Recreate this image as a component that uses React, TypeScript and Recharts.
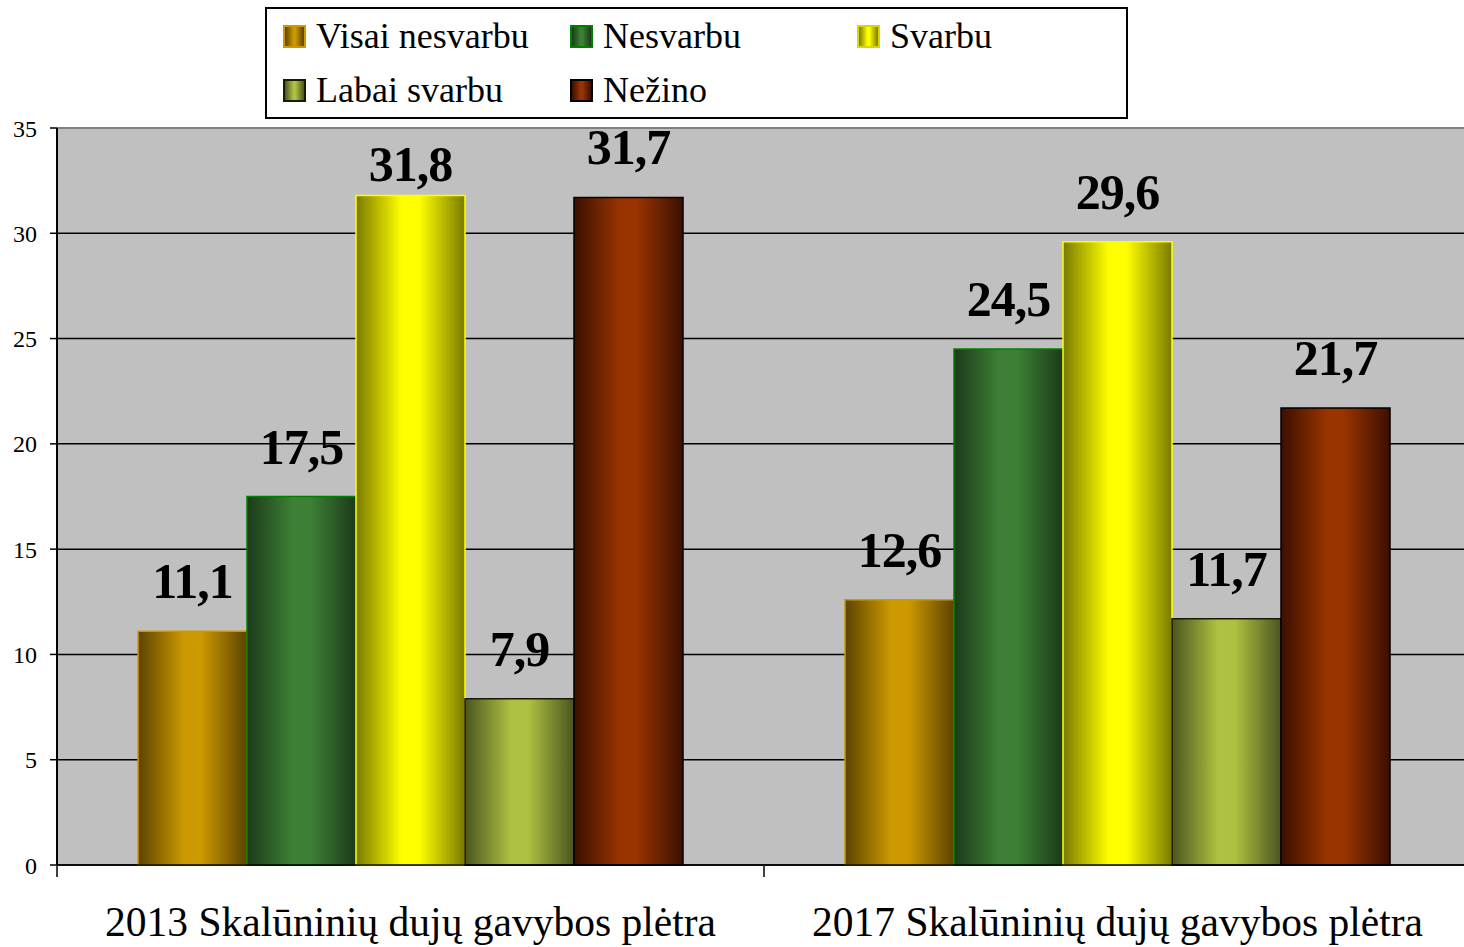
import React from "react";
import {
  Bar,
  BarChart,
  CartesianGrid,
  LabelList,
  Legend,
  ReferenceLine,
  XAxis,
  YAxis,
} from "recharts";

// categories and series values
const CATEGORIES = [
  "2013 Skalūninių dujų gavybos plėtra",
  "2017 Skalūninių dujų gavybos plėtra",
];
const VISAI_NESVARBU = [11.1, 12.6];
const NESVARBU = [17.5, 24.5];
const SVARBU = [31.8, 29.6];
const LABAI_SVARBU = [7.9, 11.7];
const NEZINO = [31.7, 21.7];
const Y_TICKS = [0, 5, 10, 15, 20, 25, 30, 35];
const BOUNDARY_TICKS = [0, 1, 2];

const SERIES = [
  { key: "visai", name: "Visai nesvarbu", values: VISAI_NESVARBU, dark: "#5c4300", bright: "#cc9900", stroke: "#cc9900" },
  { key: "nesvarbu", name: "Nesvarbu", values: NESVARBU, dark: "#1c3a1a", bright: "#3d8035", stroke: "#008000" },
  { key: "svarbu", name: "Svarbu", values: SVARBU, dark: "#7a7a00", bright: "#ffff00", stroke: "#ffff00" },
  { key: "labai", name: "Labai svarbu", values: LABAI_SVARBU, dark: "#4a5520", bright: "#b0c040", stroke: "#1a1a00" },
  { key: "nezino", name: "Nežino", values: NEZINO, dark: "#3a1000", bright: "#993300", stroke: "#000000" },
];

const data = CATEGORIES.map((name, i) => {
  const row: Record<string, string | number> = { name, bound: i + 0.5 };
  SERIES.forEach((s) => (row[s.key] = s.values[i]));
  return row;
});

const FONT = "'Liberation Serif', 'Times New Roman', serif";
const MARGIN = { top: 128, right: 9, bottom: 80, left: 0 };

const fmt = (v: number) => v.toFixed(1).replace(".", ",");

function ValueLabel(props: any) {
  const { x, y, width, value } = props;
  const cx = Number(x) + Number(width) / 2;
  // excel pulls the label down onto the bar when it would leave the plot
  let baseY = Number(y) - 33;
  if (baseY - 36 < MARGIN.top) baseY = Number(y) - 14;
  return (
    <text
      x={cx}
      y={baseY}
      textAnchor="middle"
      fontFamily={FONT}
      fontWeight="bold"
      fontSize={50}
      letterSpacing={-1}
      fill="#000"
    >
      {fmt(Number(value))}
    </text>
  );
}

function LegendBox() {
  return (
    <div
      style={{
        width: 863,
        height: 112,
        boxSizing: "border-box",
        border: "2px solid #000",
        background: "#fff",
        position: "relative",
        fontFamily: FONT,
        fontSize: 36,
        color: "#000",
      }}
    >
      {SERIES.map((s, i) => (
        <div
          key={s.key}
          style={{
            position: "absolute",
            left: 16 + (i % 3) * 287,
            top: 7 + Math.floor(i / 3) * 54,
            height: 40,
            lineHeight: "40px",
            display: "flex",
            alignItems: "center",
            whiteSpace: "nowrap",
          }}
        >
          <span
            style={{
              display: "inline-block",
              flex: "0 0 auto",
              width: 23,
              height: 23,
              boxSizing: "border-box",
              border: `2px solid ${s.stroke === "#ffff00" ? "#d8d800" : s.stroke}`,
              background: `linear-gradient(to right, ${s.dark}, ${s.bright} 45%, ${s.bright} 55%, ${s.dark})`,
              marginRight: 10,
            }}
          />
          {s.name}
        </div>
      ))}
    </div>
  );
}

export default function App() {
  return (
    <div style={{ position: "absolute", left: 0, top: 0, width: 1464, height: 947, overflow: "hidden", background: "#fff" }}>
      <BarChart
        width={1480}
        height={947}
        data={data}
        margin={MARGIN}
        barCategoryGap={81}
        barGap={0}
      >
        <defs>
          {SERIES.map((s) => (
            <linearGradient key={s.key} id={`grad-${s.key}`} x1="0" y1="0" x2="1" y2="0">
              <stop offset="0%" stopColor={s.dark} />
              <stop offset="42%" stopColor={s.bright} />
              <stop offset="58%" stopColor={s.bright} />
              <stop offset="100%" stopColor={s.dark} />
            </linearGradient>
          ))}
        </defs>
        <CartesianGrid
          vertical={false}
          stroke="#000"
          strokeWidth={1.5}
          fill="#c0c0c0"
          fillOpacity={1}
        />
        <ReferenceLine y={35} stroke="#808080" strokeWidth={2} />
        <XAxis
          dataKey="name"
          height={1}
          axisLine={{ stroke: "#000", strokeWidth: 1.5 }}
          tickLine={false}
          tickSize={0}
          tickMargin={42}
          tick={{ fontFamily: FONT, fontSize: 41.5, fill: "#000" }}
          interval={0}
        />
        <XAxis
          xAxisId="bounds"
          dataKey="bound"
          type="number"
          domain={[0, 2]}
          ticks={BOUNDARY_TICKS}
          interval={0}
          allowDataOverflow
          height={1}
          axisLine={false}
          tick={() => <g />}
          tickLine={{ stroke: "#000", strokeWidth: 1.5 }}
          tickSize={11}
        />
        <YAxis
          width={57}
          domain={[0, 35]}
          ticks={Y_TICKS}
          interval={0}
          axisLine={{ stroke: "#000", strokeWidth: 2 }}
          tickLine={{ stroke: "#000", strokeWidth: 1.5 }}
          tickSize={7}
          tickMargin={13}
          tick={{ fontFamily: FONT, fontSize: 24, fill: "#000" }}
        />
        <Legend
          layout="horizontal"
          verticalAlign="middle"
          align="center"
          wrapperStyle={{ top: 7, left: 265, width: 863, height: 112 }}
          content={() => <LegendBox />}
        />
        {SERIES.map((s) => (
          <Bar
            key={s.key}
            dataKey={s.key}
            name={s.name}
            fill={`url(#grad-${s.key})`}
            stroke={s.stroke}
            strokeWidth={1.5}
            isAnimationActive={false}
          >
            <LabelList dataKey={s.key} content={ValueLabel} />
          </Bar>
        ))}
      </BarChart>
    </div>
  );
}
